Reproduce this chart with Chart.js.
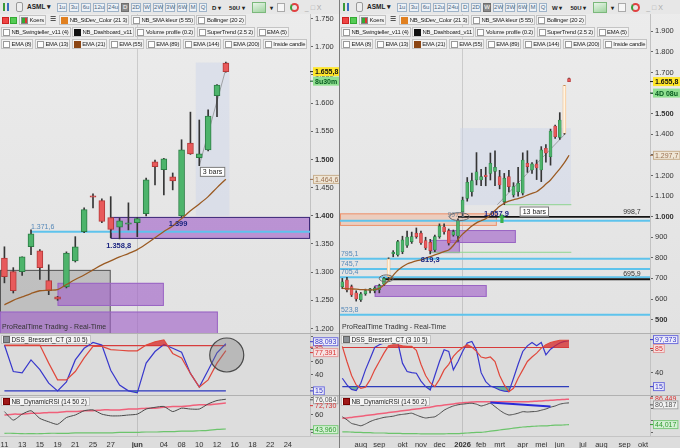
<!DOCTYPE html>
<html lang="nl">
<head>
<meta charset="utf-8">
<title>ASML</title>
<script src="https://cdn.jsdelivr.net/npm/chart.js@4.4.1/dist/chart.umd.min.js"></script>
<style>
  html, body { margin: 0; padding: 0; }
  body { width: 680px; height: 448px; overflow: hidden; background: #e3e3e3; position: relative;
         font-family: "Liberation Sans", Arial, sans-serif; }
  .panel { position: absolute; top: 0; width: 340px; height: 448px; overflow: hidden; }
  .pane { position: absolute; left: 0; width: 340px; }
  .pane.price { top: 0; height: 333px; background: linear-gradient(#ececec, #e2e2e2); }
  .pane.dss { top: 333px; height: 62px; background: #dcdcdc; }
  .pane.rsi { top: 395px; height: 53px; background: #dddddd; }
  .sep { position: absolute; left: 0; width: 340px; height: 1px; background: #b1b1b1; }
  .vsep { position: absolute; left: 339px; top: 0; width: 1px; height: 448px; background: #7d7d7d; }
  .tb { position: absolute; left: 0; top: 0; width: 340px; height: 14px; background: #e7e7e7;
        display: flex; align-items: center; font-size: 6px; color: #4a6784; }
  .tb .btn { box-sizing: border-box; height: 9px; line-height: 7px; border: 1px solid #9fb4c9; background: #edf2f7;
             text-align: center; margin-right: 2px; }
  .tb .btn.on { background: #8a8a8a; color: #fff; border-color: #6f6f6f; }
  .tb .sym { font-weight: bold; color: #222; font-size: 6.5px; margin: 0 6px 0 4px; }
  .tb .dd { font-weight: bold; color: #222; margin: 0 5px 0 3px; font-size: 6px; }
  .ic { display: inline-block; width: 8px; height: 8px; }
  .row { position: absolute; left: 0; height: 10px; display: flex; font-size: 5.9px; letter-spacing: -0.2px; color: #222; }
  .chip { box-sizing: border-box; height: 10px; line-height: 8px; border: 1px solid #c4c4c4; background: #f3f3f3;
          margin-right: 1.5px; padding: 0 1px 0 1px; white-space: nowrap; overflow: hidden; display: flex; align-items: center; }
  .cb { display: inline-block; width: 5px; height: 5px; border: 1px solid #9a9a9a; background: #fff; margin-right: 1.5px; flex: none; }
  .rt { position: absolute; left: 2px; top: 323px; font-size: 7px; color: #333; }
  .ind { position: absolute; left: 1px; height: 9px; line-height: 8px; box-sizing: border-box; font-size: 6.4px; color: #222;
         background: #f4f4f4; border: 1px solid #c4c4c4; padding: 0 2px 0 1px; display: flex; align-items: center; }
</style>
</head>
<body>
<div class="panel" id="L" style="left:0"></div>
<div class="panel" id="R" style="left:340px"></div>
<div class="vsep"></div>
<script>
// ASML dagkoersen (links): 11 mei .. 15 jun, assen doorlopend tot 26 jun
const dayLabels = ['11','','13','','15','','19','','21','','25','','27','','','jun','','','04','','08','','10','','12','','16','','18','','22','','24','',''];
const dOpen  = [1325,1301,1301,1345,1338,1285,1256,1274,1320,1372,1435,1427,1397,1380,1385,1388,1404,1496,1482,1469,1400,1529,1503,1517,1613,1671];
const dHigh  = [1345,1308,1327,1375,1340,1313,1257,1336,1363,1414,1439,1430,1434,1396,1423,1397,1467,1499,1502,1476,1535,1584,1570,1588,1633,1673];
const dLow   = [1281,1263,1294,1331,1287,1260,1250,1272,1318,1370,1414,1388,1361,1359,1375,1363,1400,1455,1437,1446,1398,1509,1489,1515,1576,1655];
const dClose = [1292,1267,1327,1368,1308,1267,1252,1334,1345,1411,1433,1390,1376,1391,1386,1395,1464,1487,1501,1462,1517,1510,1510,1577,1632,1656];
const dEma21 = [1242,1250,1256,1262,1267,1268,1269,1278,1287,1295,1304,1313,1320,1327,1333,1340,1350,1361,1372,1382,1395,1409,1421,1434,1450,1465];
const dDssFast = [86,45,43,63,48,27,15,29,63,81,90,86,47,24,15,12,58,76,87,81,75,42,21,47,74,88];
const dDssSlow = [86,86,86,86,86,58,32,32,45,66,84,84,79,78,77,77,86,91,94,73,66,42,21,32,58,77.4];
const dRsi     = [64,54,61,65,56,52,49,57,60,65,66,61,59,59,60,61,67,69,70,64,68,67,67,73,77,78.5];
const dRsiHigh = [60,61,61,62,62,63,63,64,64,65,65,66,66,66,67,67,68,68,69,70,70,71,72,72,73,74];
const dRsiLow  = [38.5,38.5,38,38,38,38.5,38.5,38.5,39,39,39,39,39,39.5,39.5,39.5,40,40,40.5,40.5,41,41,41.5,42,43,43.5];

// ASML weekkoersen (rechts): 7 jul 2025 .. 15 jun 2026, as tot okt 2026
const weekLabels = ['','','','','aug','','','','sep','','','','','okt','','','','nov','','','','dec','','','','',
  '2026','','','','feb','','','','mrt','','','','','apr','','','','mei','','','','jun','','','','',
  'jul','','','','aug','','','','','sep','','','','okt',''];
const wOpen  = [660,693,660,630,596,625,642,640,645,672,708,820,814,830,860,879,920,920,884,875,838,903,951,932,911,906,
  1024,1089,1121,1178,1178,1202,1210,1220,1194,1073,1194,1105,1121,1114,1259,1227,1256,1227,1332,1291,1440,1385,1405,1671];
const wHigh  = [700,705,668,640,632,648,652,660,672,705,800,835,885,905,930,925,945,930,900,890,910,965,965,940,935,990,
  1095,1190,1211,1311,1230,1240,1309,1320,1225,1210,1225,1165,1240,1310,1320,1262,1275,1340,1350,1425,1445,1505,1636,1673];
const wLow   = [650,635,612,590,588,618,630,630,630,665,700,805,808,820,850,870,895,865,840,819,830,895,915,862,905,880,
  997,1075,1100,1154,1150,1150,1178,1150,1135,1058,1120,1095,1100,1105,1215,1210,1180,1170,1265,1250,1380,1375,1400,1655];
const wClose = [684,644,620,600,625,641,645,653,665,700,795,823,879,887,901,903,903,872,848,835,903,955,927,871,927,980,
  1081,1167,1175,1218,1194,1194,1259,1240,1154,1187,1146,1146,1162,1275,1243,1256,1236,1324,1308,1416,1388,1469,1636,1656];
const wEma21 = [652,650,649,648,646,645,644,646,652,668,690,715,740,757,770,778,785,790,798,806,814,822,830,838,860,890,
  915,935,955,970,980,990,1010,1030,1050,1065,1075,1082,1088,1095,1105,1113,1121,1138,1158,1178,1205,1232,1262,1298];
const wDssFast = [30,18,10,8,21,45,65,85,90,93,93,94,94,57,42,40,39,25,15,9,35,60,81,78,45,60,
  78,93,96,80,40,24,16,13,9,7,6,30,55,78,88,94,88,94,72,82,88,93,96,97.4];
const wDssSlow = [87,60,35,18,12,14,27,45,60,75,88,90,90,88,87,87,80,55,35,22,15,28,45,55,69,78,
  85,90,86,78,68,66,68,60,35,18,6,12,30,45,60,68,75,84,90,94,96,98,98,98];
const wRsi     = [57,52,46,44,42,45,49,52,54,56,57,58,60,61,62,63,60,57,55,56,57,62,68,72,75,77,
  78,79,79.5,78,75,77,79.5,74,68,63,60,61,63,65.5,65,65.5,66,68,70,73,75,78,79.5,80.2];
const wRsiHigh = [54.5,55,56,57,58,59,60,61,62,63,64,65,66,67,68,69,70,71,72,73,74.5,75.5,76.5,77.5,78.5,79.5,
  80.5,81,81.5,82,82,82,82,82,82,82,82,82,82,82,82,82.5,83,83.5,84,84.5,85,85.5,86,86.4];
const wRsiLow  = [32,32,31.5,31,31,30.5,30.5,30,30,30,29.5,29.5,29.5,29,29,29,29,28.5,28.5,28.5,28.5,28.5,28.5,29,29,29,
  29.5,30,30.5,31,31,32,33,34,35,36,37,38,39,40,40.5,41,41.5,42,42,42.5,43,43,43.5,44];
const wDivergence = [[32, 81], [45, 74]];   // blauwe divergentielijn in RSI

const dssUpper = 85, dssLower = 15;

// zones, niveaus en teksten (index, koers)
const dZones = [[-0.5, 12, 1150, 1304, 'shade'], [12, 34.5, 1359, 1398, 'purpleDark'], [6, 18, 1240, 1281, 'purple'],
  [-0.5, 24.1, 1185, 1230, 'purple'], [21.6, 25.4, 1400, 1672, 'bars']];
const dLevels = [[1371.6, 3, 34.5, 'blue']];
const dTrend = [[22, 1489, 25.2, 1672]];
const dNotes = [[3, 1371.6, '1.371,6', 'lvl'], [12.9, 1346, '1.358,8', 'low'], [19.6, 1386, '1.399', 'low'], [23.5, 1478, '3 bars', 'box']];
const wZones = [[-0.5, 33.4, 955, 1016, 'orange'], [23, 37.5, 872, 935, 'purple'], [19, 25.4, 823, 887, 'purple'],
  [7, 31.2, 610, 668, 'purple'], [25.5, 49.4, 1056, 1430, 'bars']];
const wLevels = [[980.5, -0.5, 66.5, 'blue'], [795.1, -0.5, 66.5, 'blue'], [745.7, -0.5, 66.5, 'blue'], [705.4, -0.5, 66.5, 'blue'],
  [523.8, -0.5, 66.5, 'blue'], [998.7, 25, 66.5, 'black'], [695.9, 9, 66.5, 'black'], [1058, 35, 49.5, 'green'], [827, 19, 49.5, 'green']];
const wTrend = [[33.5, 1058, 48.3, 1405]];
const wNotes = [[-0.3, 795.1, '795,1', 'lvl'], [-0.3, 745.7, '745,7', 'lvl'], [-0.3, 705.4, '705,4', 'lvl'], [-0.3, 523.8, '523,8', 'lvl'],
  [64.5, 998.7, '998,7', 'lvlR'], [64.5, 695.9, '695,9', 'lvlR'], [24.6, 1000, '997,1', 'ell'], [33.3, 1012, '1.057,9', 'low'],
  [19, 790, '819,3', 'low'], [41.5, 1025, '13 bars', 'box']];

const fmtInt = v => { const r = Math.round(v); return r >= 1000 ? Math.floor(r / 1000) + '.' + String(r % 1000).padStart(3, '0') : String(r); };

const ZONE = {
  purple: ['rgba(160,95,200,0.62)', '#9a66c4'], purpleDark: ['rgba(160,95,200,0.62)', '#3d2a78'],
  orange: ['rgba(247,165,125,0.38)', 'rgba(235,140,100,0.9)'], shade: ['rgba(80,80,80,0.24)', '#565656'],
  bars: ['rgba(205,212,234,0.45)', null]
};
const LVL = { blue: ['#5ec3ec', 2], black: ['#151515', 1.8], green: ['#8fd68f', 1], dssRed: ['#d84040', 1.2], dssBlue: ['#3030c8', 1.2] };
const TAG = {
  price: ['#ffe62a', '#111', null, 'bold'], timer: ['#90e090', '#075a20', null, 'bold'], ema: ['#efe6d6', '#9a7050', '#c8b090', ''],
  blue: ['#ededfa', '#3434c8', '#6a6ad8', ''], red: ['#f6e3e3', '#d83030', '#e39a9a', ''], redTxt: [null, '#d83030', null, ''],
  green: ['#d4f0d4', '#2f9a2f', '#7cc87c', ''], gray: ['#f2f2f2', '#555', '#a0a0a0', '']
};

const overlay = {
  id: 'overlay',
  beforeDatasetsDraw(chart, _a, o) {
    const { ctx, chartArea: a, scales: { x, y } } = chart;
    ctx.save();
    ctx.beginPath(); ctx.rect(a.left, a.top, a.right - a.left, a.bottom - a.top); ctx.clip();
    (o.zones || []).forEach(([i0, i1, lo, hi, k]) => {
      const X0 = x.getPixelForValue(i0), X1 = x.getPixelForValue(i1), Y0 = y.getPixelForValue(hi), Y1 = y.getPixelForValue(lo);
      ctx.fillStyle = ZONE[k][0]; ctx.fillRect(X0, Y0, X1 - X0, Y1 - Y0);
      if (ZONE[k][1]) { ctx.strokeStyle = ZONE[k][1]; ctx.lineWidth = 1; ctx.strokeRect(X0 + 0.5, Y0 + 0.5, X1 - X0 - 1, Y1 - Y0 - 1); }
    });
    (o.levels || []).forEach(([v, i0, i1, k]) => {
      const Y = y.getPixelForValue(v);
      ctx.strokeStyle = LVL[k][0]; ctx.lineWidth = LVL[k][1];
      ctx.beginPath(); ctx.moveTo(x.getPixelForValue(i0), Y); ctx.lineTo(x.getPixelForValue(i1), Y); ctx.stroke();
    });
    (o.trend || []).forEach(([i0, v0, i1, v1]) => {
      ctx.strokeStyle = 'rgba(110,110,110,0.7)'; ctx.lineWidth = 0.8;
      ctx.beginPath(); ctx.moveTo(x.getPixelForValue(i0), y.getPixelForValue(v0)); ctx.lineTo(x.getPixelForValue(i1), y.getPixelForValue(v1)); ctx.stroke();
    });
    ctx.restore();
  },
  afterDatasetsDraw(chart, _a, o) {
    const { ctx, scales: { x, y } } = chart;
    ctx.save();
    (o.rings || []).forEach(([i, v, rx, ry, k]) => {
      ctx.beginPath(); ctx.ellipse(x.getPixelForValue(i), y.getPixelForValue(v), rx, ry, 0, 0, Math.PI * 2);
      if (k === 'big') { ctx.fillStyle = 'rgba(120,120,120,0.35)'; ctx.fill(); ctx.strokeStyle = '#4a4a4a'; ctx.lineWidth = 1.2; }
      else { ctx.strokeStyle = '#6a6a6a'; ctx.lineWidth = 1; }
      ctx.stroke();
    });
    (o.arrows || []).forEach(([i, v]) => {
      const X = x.getPixelForValue(i), Y = y.getPixelForValue(v);
      ctx.fillStyle = '#3cb04a';
      ctx.beginPath(); ctx.moveTo(X, Y - 5); ctx.lineTo(X + 4, Y - 1); ctx.lineTo(X + 1.6, Y - 1); ctx.lineTo(X + 1.6, Y + 4);
      ctx.lineTo(X - 1.6, Y + 4); ctx.lineTo(X - 1.6, Y - 1); ctx.lineTo(X - 4, Y - 1); ctx.closePath(); ctx.fill();
    });
    ctx.textBaseline = 'middle';
    (o.notes || []).forEach(([i, v, t, k]) => {
      const X = x.getPixelForValue(i), Y = y.getPixelForValue(v);
      if (k === 'lvl' || k === 'lvlR') {
        ctx.font = '7px "Liberation Sans", Arial'; ctx.fillStyle = k === 'lvl' ? '#5588b8' : '#333';
        ctx.textAlign = k === 'lvl' ? 'left' : 'right'; ctx.fillText(t, X, Y - 5);
      } else if (k === 'low') {
        ctx.font = 'bold 7.5px "Liberation Sans", Arial'; ctx.fillStyle = '#1c2580'; ctx.textAlign = 'center'; ctx.fillText(t, X, Y);
      } else if (k === 'ell') {
        ctx.font = '7px "Liberation Sans", Arial'; ctx.fillStyle = '#7a8a9a'; ctx.textAlign = 'center'; ctx.fillText(t, X, Y - 2);
      } else {
        ctx.font = '7px "Liberation Sans", Arial'; const w = ctx.measureText(t).width + 6;
        ctx.fillStyle = '#fff'; ctx.fillRect(X - w / 2, Y - 5, w, 10);
        ctx.strokeStyle = '#777'; ctx.lineWidth = 1; ctx.strokeRect(X - w / 2 + 0.5, Y - 4.5, w - 1, 9);
        ctx.fillStyle = '#222'; ctx.textAlign = 'center'; ctx.fillText(t, X, Y + 0.5);
      }
    });
    ctx.restore();
  },
  afterDraw(chart, _a, o) {
    const { ctx, chartArea: a, scales: { y } } = chart;
    ctx.save();
    ctx.strokeStyle = '#c2c2c2'; ctx.lineWidth = 1;
    ctx.beginPath(); ctx.moveTo(a.right + 0.5, a.top); ctx.lineTo(a.right + 0.5, a.bottom); ctx.stroke();
    ctx.textBaseline = 'middle'; ctx.textAlign = 'left';
    (o.tags || []).forEach(([v, t, k, dy]) => {
      const s = TAG[k], Y = y.getPixelForValue(v) + (dy || 0);
      ctx.font = (s[3] ? 'bold ' : '') + '7px "Liberation Sans", Arial';
      const w = ctx.measureText(t).width + 4;
      if (s[0]) { ctx.fillStyle = s[0]; ctx.fillRect(a.right + 3, Y - 4.5, w, 9); }
      if (s[2]) { ctx.strokeStyle = s[2]; ctx.strokeRect(a.right + 3.5, Y - 4, w - 1, 8); }
      ctx.strokeStyle = s[1]; ctx.beginPath(); ctx.moveTo(a.right, Y); ctx.lineTo(a.right + 3, Y); ctx.stroke();
      ctx.fillStyle = s[1]; ctx.fillText(t, a.right + 5, Y + 0.5);
    });
    ctx.restore();
  }
};
Chart.register(overlay);

// html: werkbalk en indicatorknoppen
function toolbar(active) {
  const btns = [['1u', 10], ['3u', 10], ['6u', 10], ['12u', 12], ['24u', 12], ['D', 8], ['2D', 10], ['W', 8], ['2W', 10], ['3W', 10], ['6W', 10], ['M', 8], ['Q', 8]];
  let h = '<div class="tb"><span class="ic" style="margin-left:3px;background:linear-gradient(90deg,#3a9a3a 30%,transparent 30%,transparent 45%,#3a70c0 45%,#3a70c0 70%,transparent 70%)"></span>' +
    '<span class="ic" style="margin-left:5px;width:5px;border:1px solid #999;border-radius:2px;background:#eee"></span><span class="sym">ASML ▾</span>';
  btns.forEach(([b, w]) => { h += `<span class="btn${b === active ? ' on' : ''}" style="width:${w}px">${b}</span>`; });
  h += `<span class="dd">${active} ▾</span><span class="dd">50U ▾</span>` +
    '<span class="ic" style="width:12px;height:9px;background:linear-gradient(160deg,#e8f4e8,#9fd39f);border:1px solid #7bb87b;margin-left:2px"></span>' +
    '<span class="dd" style="margin:0 4px">▾</span><span class="ic" style="width:6px;height:7px;border:1px solid #aaa;background:#f6f6f6"></span>' +
    '<span class="ic" style="width:9px;height:9px;margin-left:5px;border-radius:50%;border:2px solid #e04040;border-left-color:#3aa03a;box-sizing:border-box"></span>' +
    '<span style="margin-left:6px;color:#aaa;font-size:7px">_ □ X</span></div>';
  return h;
}
function chipRows() {
  const ck = c => `<span class="cb" style="${c ? 'background:' + c + ';border-color:' + c : ''}"></span>`;
  const chip = (t, c) => `<span class="chip">${ck(c)}${t}</span>`;
  const r2 = '<span class="cb" style="background:#e44;border-color:#c22;margin:2px 1px 0 2px"></span><span class="cb" style="background:#5c5;border-color:#3a3;margin:2px 2px 0 0"></span>' +
    '<span class="chip"><span class="cb" style="background:linear-gradient(90deg,#3a3 50%,#d33 50%);border-color:#888"></span>Koers</span>' +
    '<span style="margin:0 3px;font-size:7px">☰</span>' + chip('NB_StDev_Color (21 3)', '#e08020') + chip('NB_SMA kleur (5 55)') + chip('Bollinger (20 2)');
  const r3 = chip('NB_Swingteller_v11 (4)') + chip('NB_Dashboard_v11', '#111') + chip('Volume profile (0.2)') + chip('SuperTrend (2.5 2)') + chip('EMA (5)');
  const r4 = chip('EMA (8)') + chip('EMA (13)') + chip('EMA (21)', '#8b4513') + chip('EMA (55)') + chip('EMA (89)') + chip('EMA (144)') + chip('EMA (200)') + chip('Inside candle');
  return `<div class="row" style="top:15px">${r2}</div><div class="row" style="top:27px;left:1px">${r3}</div><div class="row" style="top:39px;left:1px">${r4}</div>`;
}

function yAxis(min, max, step, show, boldSet) {
  return {
    position: 'right', min, max, border: { display: false },
    grid: { drawOnChartArea: false, drawTicks: true, tickLength: 3, color: '#666' },
    ticks: {
      stepSize: step, includeBounds: false, padding: 2, color: '#333',
      font: ctx => ({ size: 7.5, family: '"Liberation Sans", Arial', weight: boldSet && ctx.tick && boldSet.includes(ctx.tick.value) ? 'bold' : 'normal' }),
      callback: v => (show ? (show.includes(v) ? fmtInt(v) : '') : fmtInt(v))
    },
    afterFit(s) { s.width = 30; s.paddingTop = 0; s.paddingBottom = 0; }
  };
}
function xAxis(labels, sepIndex, withTicks, boldLabel) {
  return {
    type: 'category', labels, offset: true, border: { display: false },
    grid: { display: true, offset: false, drawTicks: false, color: c => (c.index === sepIndex ? 'rgba(0,0,0,0.13)' : 'rgba(0,0,0,0)') },
    ticks: withTicks ? {
      display: true, autoSkip: false, maxRotation: 0, padding: 4, color: '#333',
      font: c => ({ size: 7.5, family: '"Liberation Sans", Arial', weight: c.tick && c.tick.label === boldLabel ? 'bold' : 'normal' })
    } : { display: false },
    afterFit(s) { s.height = withTicks ? 12 : 0; s.paddingLeft = 0; s.paddingRight = 0; }
  };
}
const base = { responsive: true, maintainAspectRatio: false, animation: false, layout: { padding: 0 },
  plugins: { legend: { display: false }, tooltip: { enabled: false } } };
const lineDs = (data, color, width, extra) => Object.assign({ type: 'line', data, borderColor: color, borderWidth: width, pointRadius: 0, tension: 0, fill: false }, extra || {});

function buildPanel(el, p) {
  el.innerHTML = '<div class="pane price"><canvas></canvas></div><div class="pane dss"><canvas></canvas></div><div class="pane rsi"><canvas></canvas></div>' +
    '<div class="sep" style="top:333px"></div><div class="sep" style="top:395px"></div><div class="sep" style="top:436px;background:#c4c4c4"></div>' +
    toolbar(p.tf) + chipRows() + '<div class="rt">ProRealTime Trading - Real-Time</div>' +
    '<div class="ind" style="top:335px"><span class="cb" style="background:#8a9096;border-color:#666"></span>DSS_Bressert_CT (3 10 5)</div>' +
    '<div class="ind" style="top:397px"><span class="cb" style="background:#a01818;border-color:#700"></span>NB_DynamicRSI (14 50 2)</div>';
  const [cP, cD, cR] = el.querySelectorAll('canvas');
  const up = i => p.close[i] >= p.open[i];
  const bodyFill = p.open.map((o, i) => (p.hollow.includes(i) ? '#fff4e2' : up(i) ? '#4db46b' : '#e85a5b'));
  const bodyLine = p.open.map((o, i) => (p.hollow.includes(i) ? '#f0a050' : up(i) ? '#2c7d45' : '#b53939'));

  new Chart(cP, {
    type: 'bar',
    data: {
      labels: p.labels,
      datasets: [
        lineDs(p.ema, '#9a5a22', 1.3, { tension: 0.3, order: 0 }),
        { data: p.open.map((o, i) => [o, p.close[i]]), backgroundColor: bodyFill, borderColor: bodyLine, borderWidth: p.bodyBorder,
          borderSkipped: false, barThickness: p.bodyW, grouped: false, minBarLength: 1.5, order: 1 },
        { data: p.low.map((l, i) => [l, p.high[i]]), backgroundColor: '#353535', barThickness: 1, grouped: false, order: 2 }
      ]
    },
    options: Object.assign({}, base, {
      scales: { x: xAxis(p.labels, p.sepIndex, false), y: yAxis(p.priceMin, p.priceMax, p.priceStep, null, p.boldTicks) },
      plugins: Object.assign({}, base.plugins, { overlay: { zones: p.zones, levels: p.levels, trend: p.trend, notes: p.notes, rings: p.rings, arrows: p.arrows, tags: p.priceTags } })
    })
  });

  const n = p.dssFast.length;
  new Chart(cD, {
    type: 'line',
    data: {
      labels: p.labels,
      datasets: [
        lineDs(p.dssSlow, '#e0483c', 1.2, { fill: { target: { value: dssUpper }, above: 'rgba(215,40,40,0.75)', below: 'rgba(0,0,0,0)' } }),
        lineDs(p.dssFast, '#3838cc', 1.2, { fill: { target: { value: dssLower }, above: 'rgba(0,0,0,0)', below: 'rgba(40,150,110,0.6)' } })
      ]
    },
    options: Object.assign({}, base, {
      scales: { x: xAxis(p.labels, p.sepIndex, false), y: yAxis(p.dssMin, p.dssMax, 20, [40, 60]) },
      plugins: Object.assign({}, base.plugins, { overlay: { levels: [[dssUpper, 0, n - 1, 'dssRed'], [dssLower, 0, n - 1, 'dssBlue']], rings: p.dssRings, tags: p.dssTags } })
    })
  });

  const div = Array(n).fill(null);
  p.divergence.forEach(([i, v]) => { div[i] = v; });
  new Chart(cR, {
    type: 'line',
    data: {
      labels: p.labels,
      datasets: [
        lineDs(div, '#2a2ad8', 2, { spanGaps: true }),
        lineDs(p.rsi, '#4a4a4a', 1, { tension: 0.2 }),
        lineDs(p.rsiHigh, '#f0607a', 1.5, { tension: 0.3 }),
        lineDs(p.rsiLow, '#6cc46c', 1.2, { tension: 0.3 })
      ]
    },
    options: Object.assign({}, base, {
      scales: { x: xAxis(p.labels, p.sepIndex, true, p.boldLabel), y: yAxis(p.rsiMin, p.rsiMax, 10, p.rsiShow) },
      plugins: Object.assign({}, base.plugins, { overlay: { tags: p.rsiTags } })
    })
  });
}

buildPanel(document.getElementById('L'), {
  tf: 'D', labels: dayLabels, sepIndex: 15, boldLabel: 'jun',
  open: dOpen, high: dHigh, low: dLow, close: dClose, ema: dEma21, hollow: [], bodyW: 6, bodyBorder: 1,
  priceMin: 1192, priceMax: 1783, priceStep: 50, boldTicks: [1400, 1500],
  zones: dZones, levels: dLevels, trend: dTrend, notes: dNotes, rings: [], arrows: [],
  priceTags: [[1655.8, '1.655,8', 'price'], [1655.8, '8u30m', 'timer', 9.5], [1464.6, '1.464,6', 'ema']],
  dssFast: dDssFast, dssSlow: dDssSlow, dssMin: 8.6, dssMax: 104.7, dssRings: [[25.1, 70.6, 17, 17, 'big']],
  dssTags: [[88.093, '88,093', 'blue', -2], [dssUpper, '85', 'redTxt', 1.5], [77.391, '77,391', 'red', 2], [dssLower, '15', 'blue']],
  rsi: dRsi, rsiHigh: dRsiHigh, rsiLow: dRsiLow, divergence: [], rsiMin: 35.3, rsiMax: 83.5, rsiShow: [50, 60],
  rsiTags: [[76.084, '76,084', 'gray', -1.5], [72.73, '72,730', 'redTxt', 1.5], [43.96, '43,960', 'green', 1]]
});
buildPanel(document.getElementById('R'), {
  tf: 'W', labels: weekLabels, sepIndex: 26, boldLabel: '2026',
  open: wOpen, high: wHigh, low: wLow, close: wClose, ema: wEma21, hollow: [10, 48], bodyW: 3, bodyBorder: 0.6,
  priceMin: 435, priceMax: 2052, priceStep: 100, boldTicks: [500, 1000, 1500],
  zones: wZones, levels: wLevels, trend: wTrend, notes: wNotes, rings: [[9.5, 700, 7, 3.5, 'ring'], [25.3, 1000, 10, 4, 'ring']],
  arrows: [[34.5, 989]],
  priceTags: [[1655.8, '1.655,8', 'price'], [1655.8, '4D 08u', 'timer', 11.5], [1297.7, '1.297,7', 'ema']],
  dssFast: wDssFast, dssSlow: wDssSlow, dssMin: 0, dssMax: 111, dssRings: [],
  dssTags: [[97.373, '97,373', 'blue', -1], [dssUpper, '85', 'red', 1], [dssLower, '15', 'blue']],
  rsi: wRsi, rsiHigh: wRsiHigh, rsiLow: wRsiLow, divergence: wDivergence, rsiMin: 25, rsiMax: 93.3, rsiShow: [60],
  rsiTags: [[86.449, '86,449', 'redTxt', -1], [80.187, '80,187', 'gray', 2], [44.017, '44,017', 'green']]
});
</script>
</body>
</html>
